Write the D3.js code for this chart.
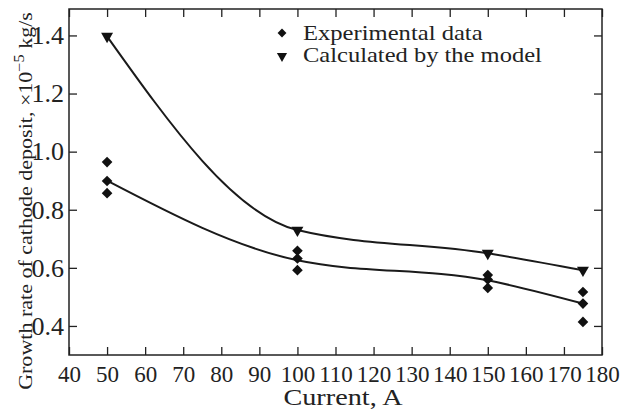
<!DOCTYPE html>
<html>
<head>
<meta charset="utf-8">
<script src="https://cdn.jsdelivr.net/npm/d3@7"></script>
<style>
  body { margin: 0; background: #fff; }
  text { font-family: "Liberation Serif", "DejaVu Serif", serif; fill: #222; }
</style>
</head>
<body>
<svg id="chart" width="624" height="412"></svg>
<script>
// data
const currents = [50, 100, 150, 175];
const expData = [
    [0.964, 0.899, 0.857],   // 50 A
    [0.659, 0.632, 0.592],   // 100 A
    [0.575, 0.560, 0.531],   // 150 A
    [0.517, 0.477, 0.414]    // 175 A
];
const modelValues = [1.397, 0.730, 0.650, 0.592];
const expTrend = [0.900, 0.626, 0.557, 0.477];
const xTicks = d3.range(40, 181, 10);
const yTicks = [0.4, 0.6, 0.8, 1.0, 1.2, 1.4];

const svg = d3.select("#chart");
const margin = { top: 9, right: 22, bottom: 57, left: 69 };
const width = 624 - margin.left - margin.right;
const height = 412 - margin.top - margin.bottom;
const g = svg.append("g").attr("transform", `translate(${margin.left},${margin.top})`);

const x = d3.scaleLinear().domain([40, 180]).range([0, width]);
const y = d3.scaleLinear().domain([0.3, 1.491]).range([height, 0]);

// stretch a text horizontally to a target width (the journal font is wider than Times)
function fitWidth(sel, target) {
    const w = sel.node().getBBox().width;
    sel.attr("transform", `scale(${target / w},1)`);
}

// axes, ticks pointing inward on all four sides
const tickLen = 8;
g.append("g").attr("class", "xaxis")
    .attr("transform", `translate(0,${height})`)
    .call(d3.axisBottom(x).tickValues(xTicks).tickSizeInner(-tickLen).tickSizeOuter(0).tickPadding(11).tickFormat(d3.format("d")));
g.append("g")
    .call(d3.axisTop(x).tickValues(xTicks).tickSizeInner(-tickLen).tickSizeOuter(0).tickFormat(""));
g.append("g").attr("class", "yaxis")
    .call(d3.axisLeft(y).tickValues(yTicks).tickSizeInner(-tickLen).tickSizeOuter(0).tickPadding(5).tickFormat(d3.format(".1f")));
g.append("g").attr("transform", `translate(${width},0)`)
    .call(d3.axisRight(y).tickValues(yTicks).tickSizeInner(-tickLen).tickSizeOuter(0).tickFormat(""));

g.selectAll(".domain").remove();
g.selectAll(".tick line").attr("stroke", "#222").attr("stroke-width", 1.3);
g.selectAll(".xaxis text").attr("font-size", 23).attr("font-family", "Liberation Serif").attr("fill", "#222");
g.selectAll(".yaxis text").attr("font-size", 26).attr("font-family", "Liberation Serif").attr("fill", "#222");

g.append("rect").attr("width", width).attr("height", height)
    .attr("fill", "none").attr("stroke", "#222").attr("stroke-width", 1.5);

// curves
const line = d3.line().x(d => x(d[0])).y(d => y(d[1])).curve(d3.curveMonotoneX);
g.append("path").datum(currents.map((c, i) => [c, modelValues[i]]))
    .attr("d", line).attr("fill", "none").attr("stroke", "#1a1a1a").attr("stroke-width", 2);
g.append("path").datum(currents.map((c, i) => [c, expTrend[i]]))
    .attr("d", line).attr("fill", "none").attr("stroke", "#1a1a1a").attr("stroke-width", 2);

// markers
const diamond = d3.symbol().type(d3.symbolDiamond2).size(72);
const triangle = d3.symbol().type(d3.symbolTriangle).size(62);
const expPoints = currents.flatMap((c, i) => expData[i].map(v => [c, v]));
g.selectAll(".exp").data(expPoints).join("path")
    .attr("class", "exp").attr("d", diamond)
    .attr("transform", d => `translate(${x(d[0])},${y(d[1])})`)
    .attr("fill", "#111");
g.selectAll(".model").data(currents.map((c, i) => [c, modelValues[i]])).join("path")
    .attr("class", "model").attr("d", triangle)
    .attr("transform", d => `translate(${x(d[0])},${y(d[1])}) rotate(180)`)
    .attr("fill", "#111");

// legend
const legend = svg.append("g").attr("transform", "translate(282,33)");
legend.append("path").attr("d", d3.symbol().type(d3.symbolDiamond2).size(50)).attr("fill", "#111");
legend.append("path").attr("d", d3.symbol().type(d3.symbolTriangle).size(45))
    .attr("transform", "translate(0,23) rotate(180)").attr("fill", "#111");
const l1 = legend.append("g").attr("transform", "translate(21,7)")
    .append("text").attr("font-size", 22).text("Experimental data");
fitWidth(l1, 180);
const l2 = legend.append("g").attr("transform", "translate(21,29)")
    .append("text").attr("font-size", 22).text("Calculated by the model");
fitWidth(l2, 239);

// axis titles
const xt = svg.append("g").attr("transform", "translate(343,405)")
    .append("text").attr("text-anchor", "middle").attr("font-size", 24).text("Current, A");
fitWidth(xt, 120);

const yTitle = svg.append("g").attr("transform", "translate(32,201) rotate(-90)")
    .append("text").attr("text-anchor", "middle").attr("font-size", 19);
yTitle.append("tspan").text("Growth rate of cathode deposit, ×10");
yTitle.append("tspan").attr("font-size", 14).attr("dy", -8).text("−5");
yTitle.append("tspan").attr("dy", 8).text(" kg/s");
fitWidth(yTitle, 378);
</script>
</body>
</html>
